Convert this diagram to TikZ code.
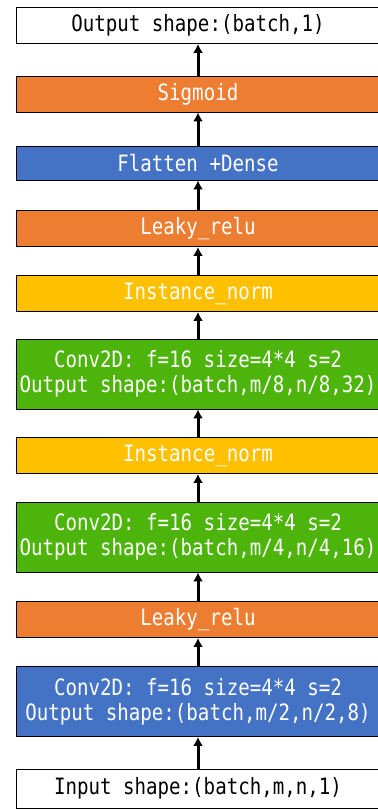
\documentclass[tikz,border=0pt]{standalone}
\usepackage{fontspec}
\usepackage{tikz}
\usetikzlibrary{arrows.meta}
\newfontfamily\boxfont[FakeStretch=0.85]{DejaVu Sans Mono}
\definecolor{laybg}{HTML}{ED7D31}
\definecolor{layblue}{HTML}{4472C4}
\definecolor{layyellow}{HTML}{FFC000}
\definecolor{laygreen}{HTML}{4CB40A}
\newcommand{\lay}{\fontsize{22.5}{25}\boxfont}

\begin{document}
\begin{tikzpicture}[x=1pt,y=-1pt,
  box/.style={draw=black,line width=0.9pt,minimum width=364pt,minimum height=36pt,
    inner sep=0pt,align=center,font=\lay,text=white},
  twoline/.style={box,minimum height=70pt},
  flow/.style={-{Latex[length=9pt,width=10pt]},line width=3pt}]
  \useasboundingbox (0,0) rectangle (377,810);
  \node[box,fill=white,text=black] (out) at (198,25.5) {Output shape:(batch,1)};
  \node[box,fill=laybg] (sig) at (198,94) {Sigmoid};
  \node[box,fill=layblue,minimum height=34pt] (fd) at (198,163) {Flatten +Dense};
  \node[box,fill=laybg] (lr1) at (198,228.5) {Leaky\_relu};
  \node[box,fill=layyellow] (in1) at (198,293.5) {Instance\_norm};
  \node[twoline,fill=laygreen] (c1) at (198,374) {Conv2D: f=16 size=4*4 s=2\\Output shape:(batch,m/8,n/8,32)};
  \node[box,fill=layyellow] (in2) at (198,455.5) {Instance\_norm};
  \node[twoline,fill=laygreen] (c2) at (198,537) {Conv2D: f=16 size=4*4 s=2\\Output shape:(batch,m/4,n/4,16)};
  \node[box,fill=laybg] (lr2) at (198,619.5) {Leaky\_relu};
  \node[twoline,fill=layblue] (c3) at (198,701.5) {Conv2D: f=16 size=4*4 s=2\\Output shape:(batch,m/2,n/2,8)};
  \node[box,fill=white,text=black,minimum height=39pt] (inp) at (198,788.5) {Input shape:(batch,m,n,1)};
  \draw[flow] (inp) -- (c3);
  \draw[flow] (c3) -- (lr2);
  \draw[flow] (lr2) -- (c2);
  \draw[flow] (c2) -- (in2);
  \draw[flow] (in2) -- (c1);
  \draw[flow] (c1) -- (in1);
  \draw[flow] (in1) -- (lr1);
  \draw[flow] (lr1) -- (fd);
  \draw[flow] (fd) -- (sig);
  \draw[flow] (sig) -- (out);
\end{tikzpicture}
\end{document}
